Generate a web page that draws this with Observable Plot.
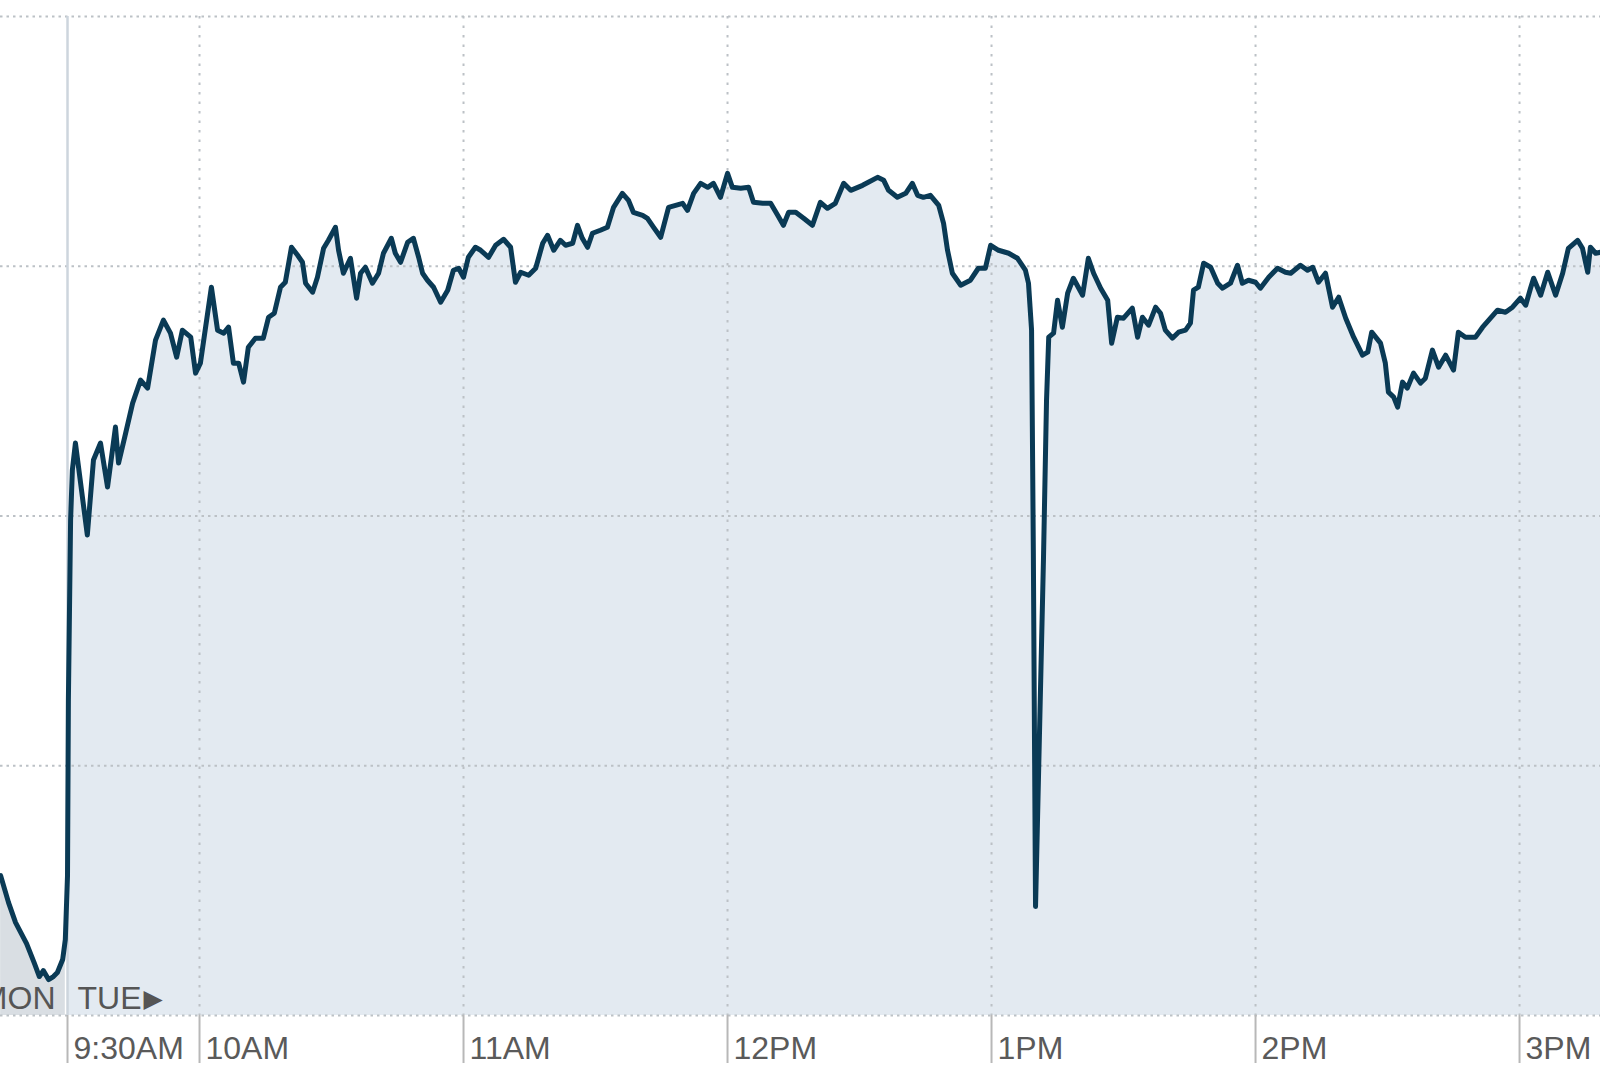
<!DOCTYPE html>
<html>
<head>
<meta charset="utf-8">
<script src="https://cdn.jsdelivr.net/npm/d3@7"></script>
<script src="https://cdn.jsdelivr.net/npm/@observablehq/plot@0.6"></script>
<style>
  html, body { margin: 0; padding: 0; background: #ffffff; }
  #chart svg { display: block; }
</style>
</head>
<body>
<div id="chart"></div>
<script>
// Minutes relative to Tuesday's 9:30 AM open (negative = Monday's final minutes)
const monMinute = [-15.2, -13.4, -11.8, -9.3, -7.5, -6.4, -5.5, -4.3, -3.2, -2.3, -1.1, -0.5];
const monValue  = [14578.0, 14572.6, 14568.6, 14564.4, 14560.4, 14557.8, 14559.0, 14557.2, 14557.8, 14558.6, 14561.2, 14565.2];

const tueMinute = [
  0, 0.2, 0.7, 1.1, 1.8, 4.5, 5.9, 7.5, 9.1, 10.9, 11.6, 13.0, 14.8, 16.6, 18.2, 20.0, 21.8, 23.4, 24.8, 26.1,
  28.0, 29.1, 30.2, 32.7, 34.1, 35.5, 36.6, 37.7, 38.9, 40.0, 41.1, 42.7, 44.5, 45.7, 47.0, 48.4, 49.5, 50.9,
  52.3, 53.4, 54.1, 55.7, 56.8, 58.2, 59.3, 60.9, 61.6, 62.7, 64.3, 65.7, 66.6, 67.7, 69.3, 70.7, 71.8, 73.6,
  74.5, 75.7, 77.3, 78.6, 79.8, 80.7, 81.8, 83.2, 84.8, 86.4, 87.7, 88.9, 90.0, 91.1, 92.7, 93.9, 95.7, 97.3,
  99.1, 100.7, 101.8, 103.0, 104.8, 106.4, 108.0, 109.1, 110.5, 112.0, 113.2, 114.8, 115.9, 117.0, 118.2, 119.3,
  121.1, 122.7, 124.1, 126.1, 127.5, 128.6, 130.7, 131.8, 133.2, 134.8, 136.6, 138.2, 139.8, 140.9, 142.3, 143.9,
  145.5, 146.8, 148.4, 150.0, 151.1, 153.0, 154.8, 155.9, 158.0, 159.8, 161.4, 162.7, 163.9, 165.5, 167.3, 169.3,
  171.1, 172.7, 174.5, 176.4, 178.0, 180.7, 182.0, 184.1, 185.5, 186.6, 188.6, 190.5, 192.0, 193.2, 194.5, 196.1,
  198.0, 199.1, 200.0, 201.1, 203.0, 205.2, 207.0, 208.6, 209.8, 211.6, 213.9, 215.9, 217.7, 218.4, 219.1, 219.5,
  220.0, 221.8, 222.5, 223.0, 224.1, 225.0, 226.1, 227.3, 228.6, 230.7, 232.0, 233.2, 234.8, 236.4, 237.3, 238.6,
  240.0, 242.0, 243.2, 244.3, 245.7, 247.3, 248.4, 249.5, 251.1, 252.5, 254.1, 255.2, 255.9, 257.0, 258.2, 259.8,
  261.4, 262.5, 264.3, 265.9, 267.0, 268.4, 270.0, 271.1, 273.0, 275.0, 276.8, 278.0, 280.2, 281.8, 283.0, 284.3,
  285.9, 287.5, 288.9, 290.5, 292.3, 294.3, 295.5, 296.4, 298.4, 299.5, 300.2, 301.4, 302.3, 303.4, 304.5, 305.9,
  307.5, 308.6, 310.2, 311.6, 313.2, 315.0, 316.1, 317.7, 320.0, 321.6, 323.4, 325.0, 326.8, 328.4, 330.2, 331.4,
  332.5, 333.2, 334.8, 336.4, 338.2, 339.8, 341.1, 343.2, 344.3, 345.5, 346.1, 347.3, 348.4
];
const tueValue = [
  14578.0, 14613.2, 14649.2, 14659.2, 14664.6, 14646.2, 14661.2, 14664.6, 14655.8, 14667.8, 14660.6, 14665.8, 14672.6, 14677.2, 14675.6, 14685.2, 14689.2, 14686.6, 14681.8, 14687.2,
  14685.8, 14678.6, 14680.6, 14695.8, 14687.2, 14686.6, 14687.8, 14680.6, 14680.6, 14676.8, 14683.8, 14685.6, 14685.6, 14689.8, 14690.6, 14695.8, 14696.8, 14703.8,
  14702.2, 14700.8, 14696.6, 14694.8, 14697.8, 14703.6, 14705.2, 14707.8, 14703.2, 14698.6, 14701.6, 14693.6, 14698.6, 14699.8, 14696.6, 14698.6, 14702.6, 14705.6,
  14702.6, 14700.8, 14704.8, 14705.6, 14701.8, 14698.6, 14697.2, 14695.8, 14692.8, 14695.2, 14699.2, 14699.6, 14697.8, 14701.8, 14703.8, 14703.2, 14701.8, 14704.2,
  14705.4, 14703.8, 14696.8, 14698.8, 14698.2, 14699.6, 14704.6, 14706.2, 14703.2, 14705.2, 14704.2, 14704.6, 14708.2, 14705.6, 14703.8, 14706.6,
  14707.2, 14707.8, 14711.8, 14714.6, 14713.2, 14710.8, 14710.2, 14709.6, 14707.8, 14705.8, 14711.8, 14712.2, 14712.6, 14711.2, 14714.6, 14716.6,
  14715.8, 14716.6, 14713.8, 14718.6, 14715.8, 14715.6, 14715.8, 14712.8, 14712.6, 14712.6, 14710.2, 14708.2, 14710.8, 14710.8, 14709.6, 14708.2,
  14712.8, 14711.6, 14712.6, 14716.6, 14715.2, 14716.2, 14716.8, 14717.8, 14717.2, 14715.2, 14713.8, 14714.6, 14716.6, 14714.2, 14713.8, 14714.2,
  14712.2, 14708.6, 14703.2, 14698.6, 14696.2, 14697.2, 14699.6, 14699.6, 14704.2, 14703.2, 14702.6, 14701.6, 14699.2, 14696.6, 14687.2, 14643.2,
  14571.8, 14641.2, 14673.2, 14685.8, 14686.6, 14693.2, 14687.8, 14694.6, 14697.6, 14694.2, 14701.6, 14698.6, 14695.6, 14693.2, 14684.6, 14689.8,
  14689.6, 14691.6, 14685.8, 14689.8, 14688.2, 14691.8, 14690.6, 14687.2, 14685.6, 14686.8, 14687.2, 14688.6, 14695.2, 14695.8, 14700.6, 14699.8,
  14696.6, 14695.6, 14696.6, 14700.2, 14696.6, 14697.2, 14696.8, 14695.6, 14697.8, 14699.6, 14698.8, 14698.6, 14700.2, 14699.2, 14699.8, 14696.8,
  14698.6, 14691.8, 14693.8, 14689.6, 14685.8, 14682.2, 14682.8, 14686.8, 14684.6, 14680.6, 14674.8, 14673.8, 14671.8, 14676.8, 14675.6, 14678.6,
  14676.6, 14677.6, 14683.2, 14679.8, 14682.2, 14679.2, 14686.8, 14685.8, 14685.8, 14687.8, 14689.6, 14691.2, 14690.8, 14691.8, 14693.6, 14692.2,
  14695.6, 14697.6, 14694.2, 14698.8, 14694.2, 14698.6, 14703.6, 14705.2, 14703.6, 14698.8, 14703.8, 14702.6, 14702.8
];

const gridValues  = [14550, 14600, 14650, 14700, 14750];
const tickMinutes = [0, 30, 90, 150, 210, 270, 330];
const tickLabels  = ["9:30AM", "10AM", "11AM", "12PM", "1PM", "2PM", "3PM"];
const sessionStart = 0;
const dayLabels = ["MON", "TUE"];

const mon = monMinute.map((m, i) => ({m, v: monValue[i]}));
const tue = tueMinute.map((m, i) => ({m, v: tueValue[i]}));
const all = mon.concat(tue);
const base = gridValues[0];

const font = "'Liberation Sans', Arial, Helvetica, sans-serif";

const chart = Plot.plot({
  width: 1600,
  height: 1067,
  marginTop: 16,
  marginBottom: 52,
  marginLeft: 0,
  marginRight: 0,
  style: {fontFamily: font, background: "#ffffff", overflow: "hidden"},
  x: {type: "linear", domain: [-15.23, 348.4], axis: null},
  y: {domain: [gridValues[0], gridValues[gridValues.length - 1]], axis: null},
  marks: [
    Plot.areaY(mon, {x: "m", y1: base, y2: "v", fill: "#d9dee3"}),
    Plot.areaY(tue, {x: "m", y1: base, y2: "v", fill: "#e3eaf1"}),
    Plot.ruleY(gridValues, {stroke: "#bcc1c6", strokeWidth: 2, strokeDasharray: "2.5,4"}),
    Plot.ruleX(tickMinutes.filter(d => d !== sessionStart), {stroke: "#bcc1c6", strokeWidth: 2, strokeDasharray: "2.5,7"}),
    Plot.ruleX([sessionStart], {stroke: "#cdd5dd", strokeWidth: 2.5}),
    Plot.line(all, {x: "m", y: "v", stroke: "#0a3a55", strokeWidth: 5, strokeLinejoin: "round", strokeLinecap: "round"}),
    Plot.text([dayLabels[0]], {x: sessionStart, frameAnchor: "bottom", text: d => d, textAnchor: "end", lineAnchor: "bottom", dx: -12, dy: -7, fontSize: 32, fill: "#555555"}),
    Plot.text([dayLabels[1]], {x: sessionStart, frameAnchor: "bottom", text: d => d, textAnchor: "start", lineAnchor: "bottom", dx: 10, dy: -7, fontSize: 32, fill: "#555555"}),
    Plot.text(["\u25B6"], {x: sessionStart, frameAnchor: "bottom", text: d => d, textAnchor: "start", lineAnchor: "bottom", dx: 76, dy: -9, fontSize: 25, fill: "#555555", fontFamily: "DejaVu Sans"}),
    // tick lines below the plot, aligned with the gridlines
    Plot.axisX({
      ticks: tickMinutes,
      tickFormat: () => "",
      tickSize: 48,
      stroke: "#b8b8b8",
      strokeWidth: 2,
      label: null
    }),
    // labels to the right of each tick line
    Plot.axisX({
      ticks: tickMinutes,
      tickFormat: d => tickLabels[tickMinutes.indexOf(d)],
      tickSize: 0,
      tickPadding: 43,
      textAnchor: "start",
      lineAnchor: "bottom",
      dx: 6,
      fontSize: 32,
      fill: "#5a5a5a",
      label: null
    })
  ]
});

document.getElementById("chart").appendChild(chart);
</script>
</body>
</html>
